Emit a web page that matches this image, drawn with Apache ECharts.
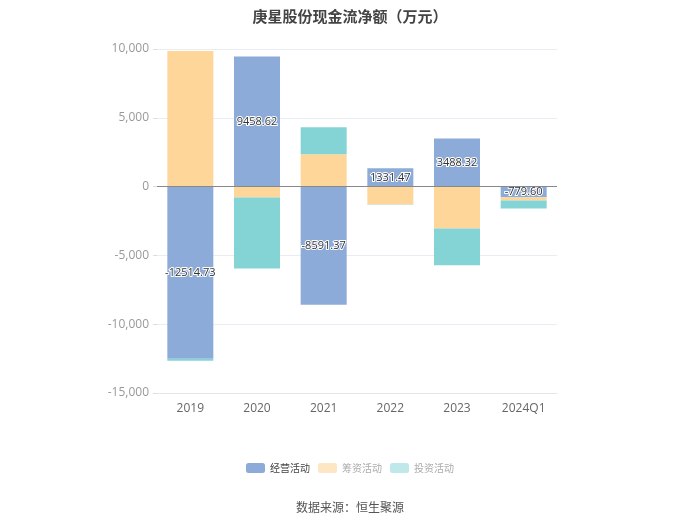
<!DOCTYPE html>
<html><head><meta charset="utf-8">
<script src="https://cdn.jsdelivr.net/npm/echarts@6/dist/echarts.min.js"></script>
<style>html,body{margin:0;padding:0;background:#fff}#c{width:700px;height:525px}</style>
</head><body><div id="c"></div>
<script>
const categories = ['2019','2020','2021','2022','2023','2024Q1'];
const operating = [-12514.73, 9458.62, -8591.37, 1331.47, 3488.32, -779.60];
const financing = [9850, -790, 2350, -1300, -3040, -230];
const investing = [-150, -5160, 1960, -20, -2670, -580];
const seriesNames = ['经营活动','筹资活动','投资活动'];
const yTicks = [-15000, 10000, 5000];

const chart = echarts.init(document.getElementById('c'));
const colors = ['#8cabd9','#fed699','#84d4d6'];
chart.setOption({
  animation:false,
  title:{text:'庚星股份现金流净额（万元）',left:'center',top:4,textStyle:{fontSize:15,fontWeight:'bold',color:'#444',fontFamily:'Noto Sans CJK SC'}},
  grid:{left:157,right:143,top:49,bottom:132},
  legend:{top:458,left:'center',itemWidth:19,itemHeight:10,itemGap:8,
    textStyle:{fontSize:10,color:'#444',fontFamily:'Noto Sans CJK SC'},
    data:[
      {name:seriesNames[0],itemStyle:{color:colors[0]}},
      {name:seriesNames[1],itemStyle:{color:'#fde6c4'},textStyle:{color:'#aaa'}},
      {name:seriesNames[2],itemStyle:{color:'#bfe8ea'},textStyle:{color:'#aaa'}}
    ]},
  graphic:[{type:'text',left:'center',top:501,style:{text:'数据来源：恒生聚源',fontSize:12,fill:'#555',fontFamily:'Noto Sans CJK SC'}}],
  xAxis:{type:'category',data:categories,
    axisLine:{onZero:false,lineStyle:{color:'#e6e6e6'}},axisTick:{show:false},
    axisLabel:{color:'#666',fontSize:12,margin:10,fontFamily:'Open Sans'}},
  yAxis:{type:'value',min:yTicks[0],max:yTicks[1],interval:yTicks[2],
    axisLine:{show:false},axisTick:{show:true,length:4,lineStyle:{color:'#ddd'}},
    splitLine:{lineStyle:{color:'#e9ecf2'}},
    axisLabel:{color:'#999',fontSize:12,fontFamily:'Open Sans',formatter:v=>v.toLocaleString('en-US')}},
  series:[
    {name:seriesNames[0],type:'bar',stack:'a',data:operating,barWidth:46,itemStyle:{color:colors[0]},
      label:{show:true,position:'inside',color:'#333',fontSize:11,textBorderColor:'#fff',textBorderWidth:2,fontFamily:'Open Sans',formatter:p=>p.value.toFixed(2)},
      markLine:{silent:true,symbol:'none',label:{show:false},lineStyle:{color:'#888',type:'solid',width:1},data:[{yAxis:0}]}},
    {name:seriesNames[1],type:'bar',stack:'a',data:financing,barWidth:46,itemStyle:{color:colors[1]}},
    {name:seriesNames[2],type:'bar',stack:'a',data:investing,barWidth:46,itemStyle:{color:colors[2]}}
  ]
});
</script></body></html>
